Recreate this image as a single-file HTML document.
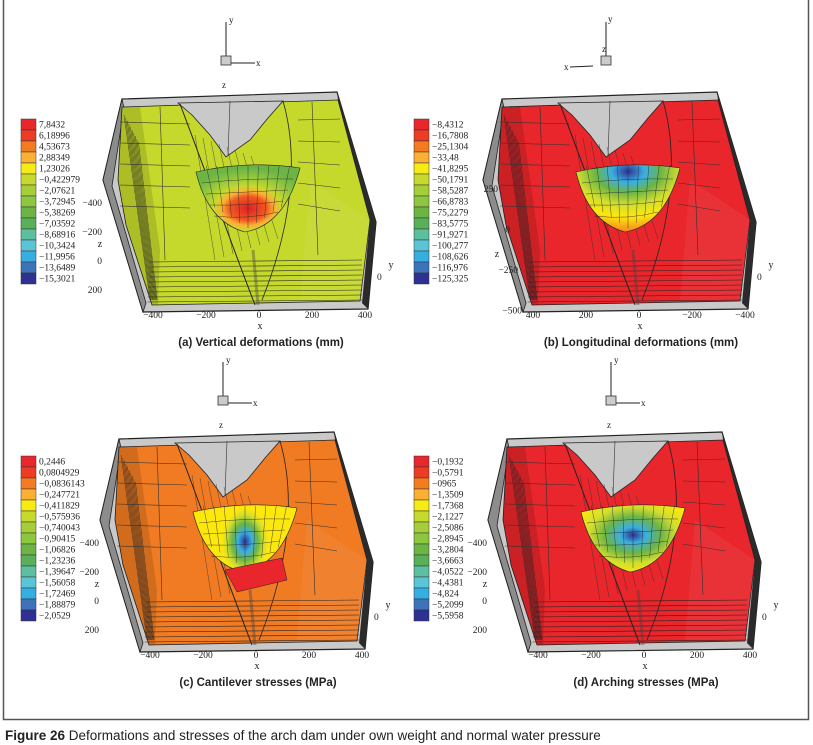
<!DOCTYPE html>
<html><head><meta charset="utf-8"><style>
html,body{margin:0;padding:0;background:#fff}
svg{display:block}
text{font-family:"Liberation Serif",serif;fill:#222}
.cap{font-family:"Liberation Sans",sans-serif}
</style></head><body>
<svg id="fig" width="813" height="745" viewBox="0 0 813 745">
<defs>
<radialGradient id="gA" cx="0.5" cy="0.65" r="0.6"><stop offset="0" stop-color="#e01f26"/><stop offset="0.3" stop-color="#f05a22"/><stop offset="0.42" stop-color="#fbb034"/><stop offset="0.55" stop-color="#c8d92e"/><stop offset="0.8" stop-color="#8dc63f"/><stop offset="1" stop-color="#6cb545"/></radialGradient>
<radialGradient id="gB" cx="0.5" cy="0.1" r="0.9"><stop offset="0" stop-color="#2e3192"/><stop offset="0.18" stop-color="#3ab0e2"/><stop offset="0.35" stop-color="#6cb545"/><stop offset="0.55" stop-color="#d2de2e"/><stop offset="0.75" stop-color="#fde80d"/><stop offset="1" stop-color="#f58220"/></radialGradient>
<radialGradient id="gC" cx="0.5" cy="0.55" r="0.5" fx="0.5" fy="0.55" gradientTransform="translate(0.5 0.55) scale(0.45 1) translate(-0.5 -0.55)"><stop offset="0" stop-color="#2e3192"/><stop offset="0.3" stop-color="#3ab0e2"/><stop offset="0.55" stop-color="#6cb545"/><stop offset="0.8" stop-color="#d2de2e"/><stop offset="1" stop-color="#fde80d"/></radialGradient>
<radialGradient id="gD" cx="0.5" cy="0.45" r="0.6"><stop offset="0" stop-color="#2e3192"/><stop offset="0.2" stop-color="#3ab0e2"/><stop offset="0.45" stop-color="#6cb545"/><stop offset="0.7" stop-color="#d2de2e"/><stop offset="1" stop-color="#fde80d"/></radialGradient>
</defs>
<path d="M3.5 0 V719.5 H808.5 V0" fill="none" stroke="#555" stroke-width="1.5"/>
<g id="panels"></g>
<text x="5" y="740" class="cap" font-size="13.5"><tspan font-weight="bold">Figure 26</tspan> Deformations and stresses of the arch dam under own weight and normal water pressure</text>
</svg>
<script>
const legendColors=["#e8262b","#ee3b24","#f47b20","#fbb034","#f6eb14","#c8d92e","#a6ce39","#8dc63f","#6cb545","#58b158","#5cbfa0","#5bc5d8","#35aee2","#3d74b9","#2e3192"];
const labelsA=["7,8432","6,18996","4,53673","2,88349","1,23026","\u22120,422979","\u22122,07621","\u22123,72945","\u22125,38269","\u22127,03592","\u22128,68916","\u221210,3424","\u221211,9956","\u221213,6489","\u221215,3021"];
const labelsB=["\u22128,4312","\u221216,7808","\u221225,1304","\u221233,48","\u221241,8295","\u221250,1791","\u221258,5287","\u221266,8783","\u221275,2279","\u221283,5775","\u221291,9271","\u2212100,277","\u2212108,626","\u2212116,976","\u2212125,325"];
const labelsC=["0,2446","0,0804929","\u22120,0836143","\u22120,247721","\u22120,411829","\u22120,575936","\u22120,740043","\u22120,90415","\u22121,06826","\u22121,23236","\u22121,39647","\u22121,56058","\u22121,72469","\u22121,88879","\u22122,0529"];
const labelsD=["\u22120,1932","\u22120,5791","\u22120965","\u22121,3509","\u22121,7368","\u22122,1227","\u22122,5086","\u22122,8945","\u22123,2804","\u22123,6663","\u22124,0522","\u22124,4381","\u22124,824","\u22125,2099","\u22125,5958"];
const xTicksA=["\u2212400","\u2212200","0","200","400"];
const xTicksB=["400","200","0","\u2212200","\u2212400"];
const zTicksA=["\u2212400","\u2212200","0","200"];
const zTicksB=["250","0","\u2212250","\u2212500"];
const titles=["(a) Vertical deformations (mm)","(b) Longitudinal deformations (mm)","(c) Cantilever stresses (MPa)","(d) Arching stresses (MPa)"];
const blockColors=["#c5d82c","#e8262b","#f07b22","#e8262b"];
const blobFills=["url(#gA)","url(#gB)","url(#gC)","url(#gD)"];

const NS="http://www.w3.org/2000/svg";
const root=document.getElementById('panels');
function el(tag,attrs,parent){const e=document.createElementNS(NS,tag);for(const k in attrs)e.setAttribute(k,attrs[k]);(parent||root).appendChild(e);return e;}
function txt(x,y,s,size,parent,anchor){const t=el('text',{x:x,y:y,'font-size':size,'text-anchor':anchor||'start'},parent);t.textContent=s;return t;}

const offsets=[[0,0],[380,0],[-3,340],[385,340]];
const legendPos=[[21,119],[414,119],[21,456],[414,456]];
const labelSets=[labelsA,labelsB,labelsC,labelsD];

for(let p=0;p<4;p++){
  const [dx,dy]=offsets[p];
  const g=el('g',{transform:`translate(${dx},${dy})`});
  
  
  const fr=el('polygon',{points:"122,99 337,92 376,222 368,309 143,312 103,180",fill:"#c9c9c9",stroke:"#222","stroke-width":1.2},g);
  
  
  el('polygon',{points:"103,180 122,99 124,108 112,186 146,303 143,312",fill:"#8c8c8c",stroke:"#222","stroke-width":0.8},g);
  el('polygon',{points:"337,92 376,222 368,309 362,303 370,220 338,100",fill:"#2b2b2b"},g);
  const blk=el('polygon',{points:"122,107 338,100 370,220 360,301 152,305 126,225 118,180",fill:blockColors[p],stroke:"#222","stroke-width":0.8},g);
  
  
  el('polygon',{points:"122,107 140,107 160,250 158,305 152,305 126,225 118,180",fill:"#000","fill-opacity":0.12},g);
  for(let i=0;i<10;i++){el('line',{x1:124+i*1.6,y1:115+i*3,x2:150+i*0.8,y2:300,stroke:"#222","stroke-width":0.4},g);}
  el('polygon',{points:"310,180 370,220 360,301 300,300",fill:"#fff","fill-opacity":0.06},g);
  for(let i=0;i<9;i++){const y=262+i*5;el('line',{x1:150-i*0.3,y1:y,x2:362,y2:y-2,stroke:"#222","stroke-width":0.6},g);}
  for(let i=0;i<5;i++){const y=122+i*21;el('line',{x1:120,y1:y,x2:190,y2:y+2,stroke:"#333","stroke-width":0.6},g);el('line',{x1:298,y1:y-2,x2:340,y2:y-3+i*2,stroke:"#333","stroke-width":0.6},g);}
  el('line',{x1:160,y1:107,x2:165,y2:260,stroke:"#333","stroke-width":0.6},g);
  el('line',{x1:312,y1:102,x2:318,y2:255,stroke:"#333","stroke-width":0.6},g);
  const notch=el('polygon',{points:"178,103 283,101 268,118 250,140 226,157 210,135 192,115",fill:"#c9c9c9",stroke:"#222","stroke-width":0.8},g);
  
  
  el('line',{x1:230,y1:101,x2:228,y2:155,stroke:"#333","stroke-width":0.6},g);
  el('path',{d:"M180 104 C205 170 230 240 255 305",fill:"none",stroke:"#222","stroke-width":1},g);
  el('path',{d:"M283 101 C300 160 290 230 262 300",fill:"none",stroke:"#222","stroke-width":0.8},g);
  for(let i=0;i<8;i++){el('line',{x1:195+i*8,y1:135+i*3,x2:215+i*9,y2:260-i*3,stroke:"#333","stroke-width":0.4},g);}
  el('line',{x1:253,y1:250,x2:258,y2:305,stroke:"#444","stroke-width":3,"stroke-opacity":0.4},g);
  const blob=el('path',{d:"M196 172 Q248 160 300 168 Q285 225 245 232 Q208 222 196 172 Z",fill:blobFills[p],stroke:"#222","stroke-width":0.6},g);
  
  
  for(let i=1;i<10;i++){const x=196+i*10.4;el('line',{x1:x,y1:166,x2:x-(x-248)*0.2,y2:228-Math.abs(x-248)*0.5,stroke:"#222","stroke-width":0.4},g);}
  for(let i=1;i<5;i++){el('path',{d:`M${198+i*4} ${172+i*11} Q248 ${164+i*14} ${298-i*5} ${168+i*11}`,fill:"none",stroke:"#222","stroke-width":0.4},g);}
  if(p===2){el('polygon',{points:"228,230 285,218 290,240 240,252",fill:"#e8262b",stroke:"#222","stroke-width":0.5},g);}
  const ax=el('g',{},g);
  
  
  el('line',{x1:226,y1:22,x2:226,y2:62,stroke:"#222","stroke-width":1},ax);
  el('rect',{x:221,y:56,width:10,height:9,fill:"#ccc",stroke:"#333","stroke-width":0.8},ax);
  if(p===1){el('line',{x1:213,y1:66,x2:190,y2:67,stroke:"#222","stroke-width":1},ax);txt(184,70,"x",9,ax);txt(222,52,"z",9,ax);txt(228,22,"y",9,ax);}
  else{el('line',{x1:231,y1:63,x2:255,y2:63,stroke:"#222","stroke-width":1},ax);txt(256,66,"x",9,ax);txt(222,88,"z",9,ax);txt(229,23,"y",9,ax);}
  const xt=(p===1)?xTicksB:xTicksA;
  xt.forEach((s,i)=>{const t=txt(153+i*53,318,s,9.5,g,'middle');});
  const xl=txt(260,329,"x",10,g,'middle');
  const zt=(p===1)?zTicksB:zTicksA;
  if(p===1){
    const zx=[118,130,138,142];
    zt.forEach((s,i)=>{const t=txt(zx[i],192+i*40.5,s,9.5,g,'end');});
  } else {
    zt.forEach((s,i)=>{const t=txt(102,206+i*29,s,9.5,g,'end');});
  }
  const zl=txt(p===1?117:100,p===1?257:247,"z",10,g,'middle');
  const yl=txt(391,268,"y",10,g,'middle');
  txt(377,280,"0",9.5,g,'start');
  const ti=el('text',{x:261,y:346,'font-size':11.5,'text-anchor':'middle','font-weight':'bold',class:'cap'},g);
  ti.textContent=titles[p];
  
  
}
for(let p=0;p<4;p++){
  const [lx,ly]=legendPos[p];
  const lg=el('g',{});
  
  
  legendColors.forEach((c,i)=>{
    const r=el('rect',{x:lx,y:ly+i*11,width:15,height:11,fill:c,stroke:"#333","stroke-width":0.5},lg);
    
    
    const t=txt(lx+18,ly+i*11+8.5,labelSets[p][i],9.5,lg);
    
    
  });
}
</script>
</body></html>
